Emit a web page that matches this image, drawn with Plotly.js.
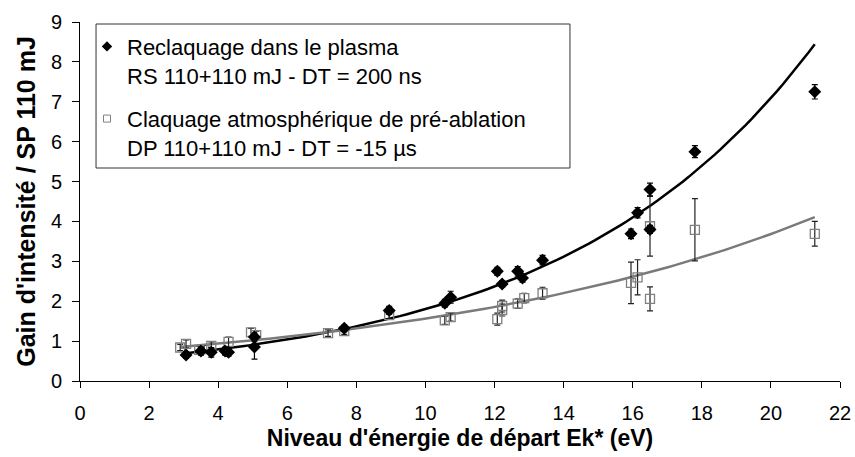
<!DOCTYPE html>
<html>
<head>
<meta charset="utf-8">
<script src="https://cdn.plot.ly/plotly-3.0.1.min.js"></script>
<style>html,body{margin:0;padding:0;background:#fff;}#chart{width:855px;height:457px;}</style>
</head>
<body>
<div id="chart"></div>
<script>
// Series 1: Reclaquage dans le plasma (RS 110+110 mJ - DT = 200 ns)
const rsX   = [3.07, 3.5, 3.8, 4.2, 4.3, 5.05, 5.05, 7.65, 8.95, 10.56, 10.73, 12.08, 12.22, 12.67, 12.81, 13.39, 15.95, 16.14, 16.5, 16.5, 17.8, 21.27];
const rsY   = [0.65, 0.75, 0.72, 0.75, 0.72, 0.85, 1.1, 1.32, 1.77, 1.95, 2.1, 2.75, 2.43, 2.75, 2.58, 3.03, 3.69, 4.22, 4.8, 3.8, 5.75, 7.25];
const rsErr = [0.08, 0.1, 0.12, 0.1, 0.1, 0.3, 0.1, 0.08, 0.1, 0.1, 0.15, 0.1, 0.08, 0.12, 0.1, 0.12, 0.12, 0.13, 0.16, 0.1, 0.15, 0.18];

// Series 2: Claquage atmosphérique de pré-ablation (DP 110+110 mJ - DT = -15 µs)
const dpX   = [2.9, 3.07, 3.45, 3.6, 3.8, 4.3, 4.95, 5.1, 7.18, 7.65, 8.95, 10.56, 10.73, 12.08, 12.22, 12.22, 12.67, 12.86, 13.39, 15.95, 16.14, 16.5, 16.5, 17.8, 21.27];
const dpY   = [0.84, 0.93, 0.78, 0.8, 0.88, 0.98, 1.22, 1.15, 1.2, 1.25, 1.65, 1.52, 1.6, 1.55, 1.88, 1.78, 1.94, 2.08, 2.2, 2.46, 2.6, 3.88, 2.06, 3.79, 3.69];
const dpErr = [0.08, 0.1, 0.1, 0.1, 0.1, 0.12, 0.1, 0.1, 0.08, 0.08, 0.1, 0.1, 0.1, 0.15, 0.15, 0.15, 0.12, 0.12, 0.15, 0.52, 0.44, 0.75, 0.3, 0.78, 0.31];

const legendNames = [
  "Reclaquage dans le plasma<br>RS 110+110 mJ - DT = 200 ns",
  "Claquage atmosphérique de pré-ablation<br>DP 110+110 mJ - DT = -15 µs"
];
const xTitle = "Niveau d'énergie de départ Ek* (eV)";
const yTitle = "Gain d'intensité / SP 110 mJ";

// Exponential trendline (least squares on ln y), as a spreadsheet does
function expTrend(xs, ys) {
  const n = xs.length;
  let sx = 0, sy = 0, sxx = 0, sxy = 0;
  for (let i = 0; i < n; i++) {
    const ly = Math.log(ys[i]);
    sx += xs[i]; sy += ly; sxx += xs[i] * xs[i]; sxy += xs[i] * ly;
  }
  const b = (n * sxy - sx * sy) / (n * sxx - sx * sx);
  const a = Math.exp((sy - b * sx) / n);
  const x0 = Math.min(...xs), x1 = Math.max(...xs);
  const tx = [], ty = [];
  for (let k = 0; k <= 100; k++) {
    const x = x0 + (x1 - x0) * k / 100;
    tx.push(x); ty.push(a * Math.exp(b * x));
  }
  return {x: tx, y: ty};
}
const rsFit = expTrend(rsX, rsY);
const dpFit = expTrend(dpX, dpY);

const FONT = "Arial, 'Liberation Sans', sans-serif";

const traces = [
  {x: rsFit.x, y: rsFit.y, mode: 'lines', line: {color: '#000', width: 2.5}, showlegend: false, hoverinfo: 'skip'},
  {x: dpFit.x, y: dpFit.y, mode: 'lines', line: {color: '#7a7a7a', width: 2.5}, showlegend: false, hoverinfo: 'skip'},
  {x: dpX, y: dpY, mode: 'markers', showlegend: false,
   marker: {symbol: 'square-open', size: 9, color: '#808080', line: {width: 1.3, color: '#808080'}},
   error_y: {type: 'data', array: dpErr, visible: true, color: '#222', thickness: 1.2, width: 3}},
  {x: rsX, y: rsY, mode: 'markers', showlegend: false,
   marker: {symbol: 'diamond', size: 10, color: '#000'},
   error_y: {type: 'data', array: rsErr, visible: true, color: '#000', thickness: 1.2, width: 3}},
  // legend entries (small symbols, as in the original key)
  {x: [null], y: [null], mode: 'markers', name: legendNames[0], legendgroup: 'a', legendrank: 1,
   marker: {symbol: 'diamond', size: 8, color: '#000'}},
  {x: [null], y: [null], mode: 'markers', name: legendNames[1], legendgroup: 'b', legendrank: 2,
   marker: {symbol: 'square-open', size: 7, color: '#808080', line: {width: 1, color: '#808080'}}}
];

const layout = {
  width: 855, height: 457,
  margin: {l: 80, r: 15, t: 22, b: 76},
  paper_bgcolor: '#fff', plot_bgcolor: '#fff',
  font: {family: FONT, color: '#000', size: 20},
  showlegend: true,
  legend: {
    x: 0.0092, y: 0.99, xanchor: 'left', yanchor: 'top',
    bgcolor: 'rgba(0,0,0,0)', borderwidth: 0,
    font: {family: FONT, size: 22, color: '#000'},
    traceorder: 'grouped', tracegroupgap: 12, valign: 'top', itemwidth: 30
  },
  shapes: [
    {type: 'rect', xref: 'paper', yref: 'paper', x0: 0.0211, x1: 0.6447, y0: 0.5933, y1: 0.9944,
     line: {color: '#333', width: 1}, fillcolor: 'rgba(0,0,0,0)', layer: 'above'}
  ],
  xaxis: {
    range: [0, 22], dtick: 2, tick0: 0, showgrid: false, zeroline: false,
    showline: true, linecolor: '#000', linewidth: 1,
    ticks: 'outside', ticklen: 6, tickcolor: '#000', ticklabelstandoff: 8,
    tickfont: {family: FONT, size: 20},
    title: {text: '<b>' + xTitle + '</b>', font: {family: FONT, size: 23}, standoff: 6}
  },
  yaxis: {
    range: [0, 9], dtick: 1, tick0: 0, showgrid: false, zeroline: false,
    showline: true, linecolor: '#000', linewidth: 1,
    ticks: 'outside', ticklen: 7, tickcolor: '#000', ticklabelstandoff: 6,
    tickfont: {family: FONT, size: 20},
    title: {text: '<b>' + yTitle + '</b>', font: {family: FONT, size: 25}, standoff: 8}
  }
};

Plotly.newPlot('chart', traces, layout, {displayModeBar: false, staticPlot: true});
</script>
</body>
</html>
